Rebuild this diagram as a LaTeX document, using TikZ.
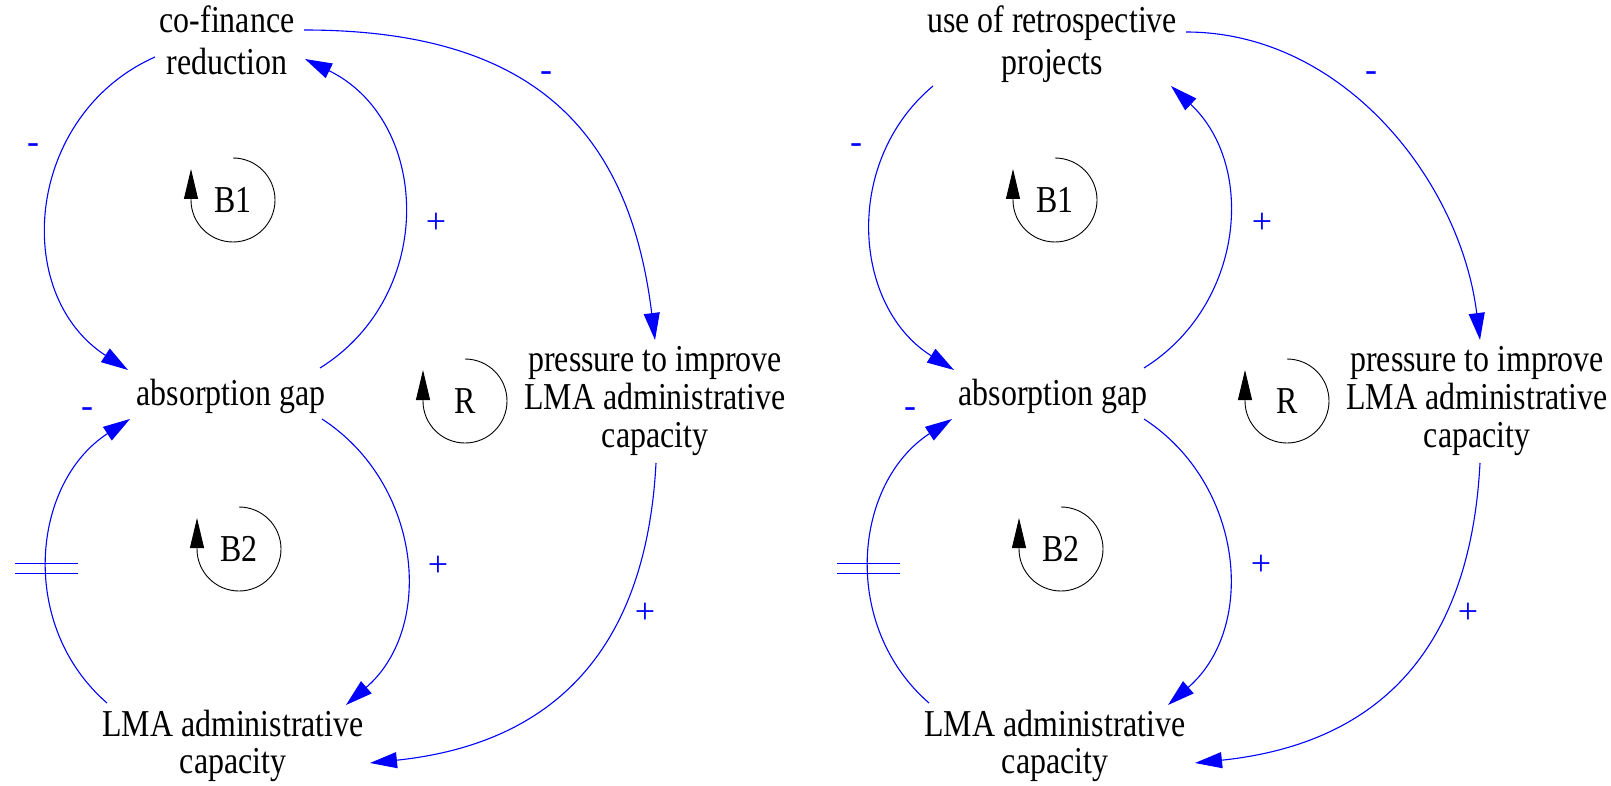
\documentclass[tikz,border=0pt]{standalone}
\usepackage{fontspec}
\setmainfont[FakeStretch=0.84]{Liberation Serif}
\newfontfamily\signfont{Liberation Serif}
\usetikzlibrary{arrows.meta}
\definecolor{linkblue}{RGB}{0,0,255}
\begin{document}
\begin{tikzpicture}[x=1pt,y=1pt,
  var/.style={inner sep=0pt, align=center, font=\fontsize{38}{38}\selectfont, anchor=base},
  topvar/.style={var, font=\fontsize{38}{42}\selectfont},
  lmavar/.style={var, font=\fontsize{38}{37}\selectfont},
  link/.style={draw=linkblue, line width=1.1pt, -{Triangle[length=27pt,width=16pt]}},
  sign/.style={inner sep=0pt, text=linkblue, font=\signfont\fontsize{36}{36}\selectfont},
  looplbl/.style={inner sep=0pt, font=\fontsize{38}{38}\selectfont},
  loopline/.style={draw=black, line width=0.9pt, -{Triangle[length=30pt,width=14pt]}},
  delayline/.style={draw=linkblue, line width=1.1pt}
]
\fill[white] (0,0) rectangle (1611,-786);
\useasboundingbox (0,0) rectangle (1611,-786);

% ---------------- left panel ----------------
\node[topvar] (cofin) at (227,-75) {co-finance\\reduction};
\node[var] (gap) at (231,-405) {absorption gap};
\node[var] (press) at (655,-447) {pressure to improve\\LMA administrative\\capacity};
\node[lmavar] (lma) at (233,-773) {LMA administrative\\capacity};

\draw[link] ([shift={(-72,18)}]cofin.base) to[out=204,in=147,looseness=1.15] ([shift={(-103,35)}]gap.base);
\draw[link] ([shift={(89,37)}]gap.base) to[out=32,in=-26,looseness=1.15] ([shift={(78,16)}]cofin.base);
\draw[link] ([shift={(77,45)}]cofin.base) to[out=0,in=97,looseness=1.2] ([shift={(0,107)}]press.base);
\draw[link] ([shift={(1,-16)}]press.base) to[out=267,in=6,looseness=1.15] ([shift={(137,10)}]lma.base);
\draw[link] ([shift={(91,-14)}]gap.base) to[out=-33,in=41,looseness=1.06] ([shift={(113,68)}]lma.base);
\draw[link] ([shift={(-126,70)}]lma.base) to[out=139,in=213,looseness=1.06] coordinate[pos=0.46] (dl1) ([shift={(-101,-14)}]gap.base);
\draw[delayline] ([shift={(-32,5)}]dl1) -- ([shift={(31,5)}]dl1) ([shift={(-32,-5)}]dl1) -- ([shift={(31,-5)}]dl1);

\node[sign] (s1) at (33,-149) {-};
\node[sign] (s2) at (436,-223) {+};
\node[sign] (s3) at (546,-77) {-};
\node[sign] (s4) at (87,-413) {-};
\node[sign] (s5) at (438,-566) {+};
\node[sign] (s6) at (645,-613) {+};

\node[looplbl] (b1) at (233,-200) {B1};
\draw[loopline] ([shift={(0,42)}]b1.center) arc[start angle=90, end angle=-180, radius=42] -- ++(0,31);
\node[looplbl] (r1) at (465,-401) {R};
\draw[loopline] ([shift={(0,42)}]r1.center) arc[start angle=90, end angle=-180, radius=42] -- ++(0,31);
\node[looplbl] (b2) at (239,-549) {B2};
\draw[loopline] ([shift={(0,42)}]b2.center) arc[start angle=90, end angle=-180, radius=42] -- ++(0,31);

% ---------------- right panel ----------------
\node[topvar] (usep) at (1052,-75) {use of retrospective\\projects};
\node[var] (gap2) at (1053,-405) {absorption gap};
\node[var] (press2) at (1477,-447) {pressure to improve\\LMA administrative\\capacity};
\node[lmavar] (lma2) at (1055,-773) {LMA administrative\\capacity};

\draw[link] ([shift={(-119,-11)}]usep.base) to[out=220,in=148,looseness=1.07] ([shift={(-99,35)}]gap2.base);
\draw[link] ([shift={(91,37)}]gap2.base) to[out=32,in=-43,looseness=1.06] ([shift={(119,-11)}]usep.base);
\draw[link] ([shift={(134,43)}]usep.base) to[out=0,in=97,looseness=0.95] ([shift={(3,107)}]press2.base);
\draw[link] ([shift={(3,-16)}]press2.base) to[out=267,in=6,looseness=1.15] ([shift={(140,10)}]lma2.base);
\draw[link] ([shift={(91,-14)}]gap2.base) to[out=-33,in=41,looseness=1.06] ([shift={(113,68)}]lma2.base);
\draw[link] ([shift={(-126,70)}]lma2.base) to[out=139,in=213,looseness=1.06] coordinate[pos=0.46] (dl2) ([shift={(-101,-14)}]gap2.base);
\draw[delayline] ([shift={(-32,5)}]dl2) -- ([shift={(31,5)}]dl2) ([shift={(-32,-5)}]dl2) -- ([shift={(31,-5)}]dl2);

\node[sign] (t1) at (856,-149) {-};
\node[sign] (t2) at (1262,-223) {+};
\node[sign] (t3) at (1371,-77) {-};
\node[sign] (t4) at (910,-413) {-};
\node[sign] (t5) at (1261,-565) {+};
\node[sign] (t6) at (1468,-613) {+};

\node[looplbl] (rb1) at (1055,-200) {B1};
\draw[loopline] ([shift={(0,42)}]rb1.center) arc[start angle=90, end angle=-180, radius=42] -- ++(0,31);
\node[looplbl] (rr1) at (1287,-401) {R};
\draw[loopline] ([shift={(0,42)}]rr1.center) arc[start angle=90, end angle=-180, radius=42] -- ++(0,31);
\node[looplbl] (rb2) at (1061,-549) {B2};
\draw[loopline] ([shift={(0,42)}]rb2.center) arc[start angle=90, end angle=-180, radius=42] -- ++(0,31);
\end{tikzpicture}
\end{document}
